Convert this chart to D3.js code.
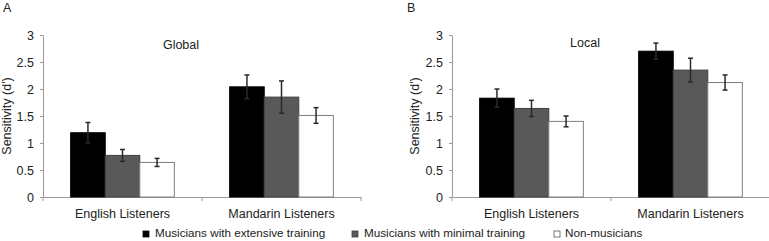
<!DOCTYPE html>
<html>
<head>
<meta charset="utf-8">
<script src="https://cdn.jsdelivr.net/npm/d3@7"></script>
<style>
  body { margin: 0; background: #fff; }
  text { font-family: "Liberation Sans", Arial, sans-serif; fill: #222; }
</style>
</head>
<body>
<div class="canvas"></div>
<script>
// data
const categories = ['English Listeners', 'Mandarin Listeners'];
const seriesNames = ['Musicians with extensive training', 'Musicians with minimal training', 'Non-musicians'];

// panel A - global
const globalMeans = [[1.19, 0.77, 0.64], [2.04, 1.85, 1.51]];
const globalErrors = [[0.19, 0.11, 0.075], [0.22, 0.30, 0.145]];

// panel B - local
const localMeans = [[1.83, 1.64, 1.40], [2.70, 2.35, 2.12]];
const localErrors = [[0.17, 0.15, 0.10], [0.15, 0.22, 0.14]];

const yTicks = [0, 0.5, 1, 1.5, 2, 2.5, 3];

const fills = ['#000000', '#595959', '#ffffff'];
const strokes = ['#000000', '#404040', '#7f7f7f'];
const axisColor = '#9a9a9a';

const svg = d3.select('.canvas')
  .append('svg')
  .attr('width', 769)
  .attr('height', 241);

const plotTop = 35, plotBottom = 197;

const yScale = d3.scaleLinear().domain([0, 3]).range([plotBottom, plotTop]);

const drawPanel = (opts) => {
  const g = svg.append('g');

  const xBand = d3.scaleBand()
    .domain(categories)
    .range([opts.x0, opts.x0 + opts.width])
    .padding(0);

  const inner = d3.scaleBand()
    .domain(seriesNames)
    .range([0, xBand.bandwidth()])
    .paddingInner(0)
    .paddingOuter(0.8);

  // y axis
  const yAxisGroup = g.append('g')
    .attr('transform', `translate(${opts.x0}, 0)`)
    .call(d3.axisLeft(yScale).tickValues(yTicks).tickSize(3).tickSizeOuter(0).tickPadding(6).tickFormat(d => d));
  yAxisGroup.select('.domain').attr('stroke', axisColor);
  yAxisGroup.selectAll('.tick line').attr('stroke', axisColor);
  yAxisGroup.selectAll('.tick text')
    .style('font-size', '12.5px')
    .attr('fill', '#222');

  // x axis line with boundary ticks
  const xAxisGroup = g.append('g')
    .attr('transform', `translate(0, ${plotBottom})`)
    .call(d3.axisBottom(xBand).tickSize(0).tickPadding(12));
  xAxisGroup.select('.domain').attr('stroke', axisColor);
  xAxisGroup.selectAll('.tick text')
    .style('font-size', '12.5px')
    .attr('fill', '#222');

  const bounds = [xBand.range()[0]].concat(categories.map(c => xBand(c) + xBand.bandwidth()));
  xAxisGroup.selectAll('line.bound')
    .data(bounds)
    .enter().append('line')
    .attr('class', 'bound')
    .attr('x1', d => d).attr('x2', d => d)
    .attr('y1', 0).attr('y2', 4)
    .attr('stroke', axisColor);

  // bars
  const rows = [];
  categories.forEach((c, i) => {
    seriesNames.forEach((s, j) => {
      rows.push({ cat: c, series: s, j: j, value: opts.means[i][j], err: opts.errors[i][j] });
    });
  });

  g.selectAll('rect.bar')
    .data(rows)
    .enter().append('rect')
    .attr('class', 'bar')
    .attr('x', d => xBand(d.cat) + inner(d.series))
    .attr('width', inner.bandwidth())
    .attr('y', d => yScale(d.value))
    .attr('height', d => plotBottom - yScale(d.value))
    .attr('fill', d => fills[d.j])
    .attr('stroke', d => strokes[d.j])
    .attr('stroke-width', 1);

  // error bars
  const err = g.selectAll('g.err')
    .data(rows)
    .enter().append('g')
    .attr('class', 'err')
    .attr('stroke', '#2a2a2a')
    .attr('stroke-width', 1.5);

  const cx = d => xBand(d.cat) + inner(d.series) + inner.bandwidth() / 2;

  err.append('line')
    .attr('x1', cx).attr('x2', cx)
    .attr('y1', d => yScale(d.value + d.err))
    .attr('y2', d => yScale(d.value - d.err));
  err.append('line')
    .attr('x1', d => cx(d) - 2.5).attr('x2', d => cx(d) + 2.5)
    .attr('y1', d => yScale(d.value + d.err))
    .attr('y2', d => yScale(d.value + d.err));
  err.append('line')
    .attr('x1', d => cx(d) - 2.5).attr('x2', d => cx(d) + 2.5)
    .attr('y1', d => yScale(d.value - d.err))
    .attr('y2', d => yScale(d.value - d.err));

  // y label
  g.append('text')
    .attr('transform', `translate(${opts.labelX}, ${(plotTop + plotBottom) / 2}) rotate(-90)`)
    .attr('text-anchor', 'middle')
    .style('font-size', '12.5px')
    .text("Sensitivity (d')");

  // panel title and letter
  g.append('text')
    .attr('x', opts.titleX).attr('y', opts.titleY)
    .attr('text-anchor', 'middle')
    .style('font-size', '12.5px')
    .text(opts.title);

  g.append('text')
    .attr('x', opts.letterX).attr('y', 12)
    .style('font-size', '12.5px')
    .text(opts.letter);
};

drawPanel({ x0: 43, width: 318, means: globalMeans, errors: globalErrors,
  title: 'Global', titleX: 181, titleY: 49, letter: 'A', letterX: 3, labelX: 11 });
drawPanel({ x0: 452, width: 318, means: localMeans, errors: localErrors,
  title: 'Local', titleX: 585, titleY: 47, letter: 'B', letterX: 407, labelX: 419 });

// legend
const legendX = [143, 352, 554];
const legend = svg.selectAll('g.legend')
  .data(seriesNames)
  .enter().append('g')
  .attr('class', 'legend')
  .attr('transform', (d, i) => `translate(${legendX[i]}, 231)`);

legend.append('rect')
  .attr('width', 6).attr('height', 6)
  .attr('fill', (d, i) => fills[i])
  .attr('stroke', (d, i) => i === 2 ? '#555' : strokes[i])
  .attr('stroke-width', 0.8);

legend.append('text')
  .attr('x', (d, i) => i === 2 ? 11 : 12).attr('y', 6)
  .style('font-size', '11.7px')
  .text(d => d);
</script>
</body>
</html>
